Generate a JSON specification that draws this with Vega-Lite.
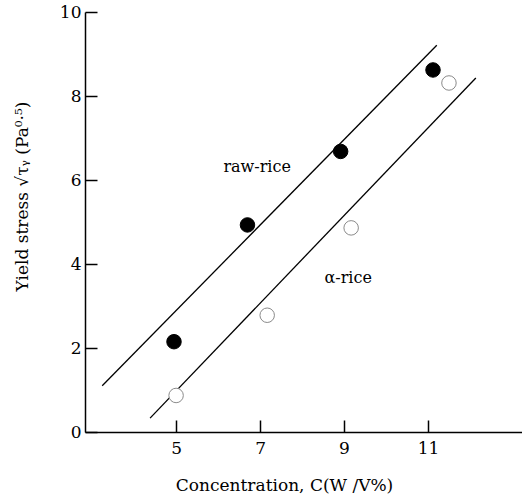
{
  "$schema": "https://vega.github.io/schema/vega-lite/v6.json",
  "width": 437,
  "height": 420,
  "autosize": "none",
  "padding": {"left": 85, "top": 12, "right": 0, "bottom": 66},
  "background": "white",
  "config": {
    "view": {"stroke": null},
    "font": "DejaVu Serif",
    "axis": {
      "grid": false,
      "domainColor": "black",
      "domainWidth": 1.5,
      "tickColor": "black",
      "tickWidth": 1.5,
      "labelColor": "black",
      "labelFont": "DejaVu Serif",
      "labelFontSize": 17,
      "titleFont": "DejaVu Serif",
      "titleFontWeight": "normal",
      "titleColor": "black",
      "titleFontSize": 17
    }
  },
  "datasets": {
    "points": [
      {"series": "raw-rice", "c": 4.95, "s": 2.15},
      {"series": "raw-rice", "c": 6.7, "s": 4.93},
      {"series": "raw-rice", "c": 8.92, "s": 6.68},
      {"series": "raw-rice", "c": 11.12, "s": 8.62},
      {"series": "α-rice", "c": 5.0, "s": 0.87},
      {"series": "α-rice", "c": 7.17, "s": 2.78},
      {"series": "α-rice", "c": 9.17, "s": 4.86},
      {"series": "α-rice", "c": 11.5, "s": 8.31}
    ],
    "fits": [
      {"series": "raw-rice", "c": 3.24, "s": 1.1},
      {"series": "raw-rice", "c": 11.21, "s": 9.21},
      {"series": "α-rice", "c": 4.38, "s": 0.33},
      {"series": "α-rice", "c": 12.14, "s": 8.43}
    ],
    "labels": [
      {"label": "raw-rice", "c": 6.93, "s": 6.31},
      {"label": "α-rice", "c": 9.1, "s": 3.67}
    ]
  },
  "layer": [
    {
      "data": {"name": "fits"},
      "mark": {"type": "line", "color": "black", "strokeWidth": 1.3},
      "encoding": {
        "x": {
          "field": "c", "type": "quantitative",
          "scale": {"domain": [2.83, 13.24], "nice": false, "zero": false},
          "axis": {
            "values": [5, 7, 9, 11],
            "tickSize": -12,
            "labelPadding": 20,
            "title": "Concentration, C(W /V%)",
            "titleX": 199,
            "titleY": 53,
            "titleBaseline": "middle",
            "titleAnchor": null
          }
        },
        "y": {
          "field": "s", "type": "quantitative",
          "scale": {"domain": [0, 10], "nice": false},
          "axis": {
            "values": [0, 2, 4, 6, 8, 10],
            "tickSize": -12,
            "labelPadding": 16,
            "title": "Yield stress √τᵧ (Pa⁰·⁵)",
            "titleX": -63,
            "titleY": 184,
            "titleBaseline": "middle",
            "titleAngle": -90
          }
        },
        "detail": {"field": "series"}
      }
    },
    {
      "data": {"name": "points"},
      "mark": {"type": "point", "shape": "circle", "filled": false, "opacity": 1, "size": 210, "strokeWidth": 1},
      "encoding": {
        "x": {"field": "c", "type": "quantitative"},
        "y": {"field": "s", "type": "quantitative"},
        "fill": {"field": "series", "type": "nominal", "scale": {"domain": ["raw-rice", "α-rice"], "range": ["black", "white"]}, "legend": null},
        "stroke": {"field": "series", "type": "nominal", "scale": {"domain": ["raw-rice", "α-rice"], "range": ["black", "#8a8a8a"]}, "legend": null}
      }
    },
    {
      "data": {"name": "labels"},
      "mark": {"type": "text", "font": "DejaVu Serif", "fontSize": 16, "color": "black", "align": "center", "baseline": "middle"},
      "encoding": {
        "x": {"field": "c", "type": "quantitative"},
        "y": {"field": "s", "type": "quantitative"},
        "text": {"field": "label"}
      }
    }
  ]
}
